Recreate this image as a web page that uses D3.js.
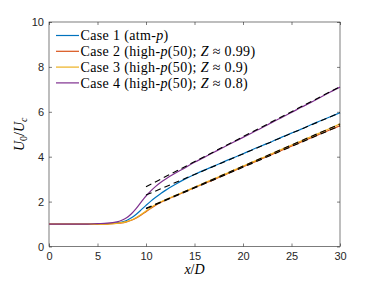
<!DOCTYPE html>
<html>
<head>
<meta charset="utf-8">
<script src="https://cdn.jsdelivr.net/npm/d3@7"></script>
<style>
  body { margin: 0; background: #fff; }
  svg { display: block; }
  .tick text { font-family: "Liberation Sans", Arial, sans-serif; font-size: 11px; fill: #262626; }
  .lab { font-family: "Liberation Serif", "DejaVu Serif", serif; fill: #000; }
</style>
</head>
<body>
<svg width="376" height="282"></svg>
<script>
// x positions of the sampled curves (x/D)
let xs = [0, 2, 4, 5, 6, 7, 7.5, 8, 8.5, 9, 9.5, 10, 10.5, 11, 11.5, 12, 13, 14, 15, 16, 17, 18, 19, 20,
          21, 22, 23, 24, 25, 26, 27, 28, 29, 30];

// U0/Uc for each case
let case1 = [1.0, 1.0, 1.0, 1.0, 1.02, 1.05, 1.09, 1.16, 1.28, 1.44, 1.63, 1.83, 2.02, 2.19, 2.35, 2.5, 2.76, 3.0, 3.21,
             3.4, 3.58, 3.77, 3.95, 4.13, 4.32, 4.5, 4.68, 4.87, 5.05, 5.23, 5.42, 5.6, 5.78, 5.96];
let case2 = [1.0, 1.0, 1.0, 1.0, 1.0, 1.03, 1.05, 1.1, 1.17, 1.27, 1.4, 1.55, 1.7, 1.84, 1.96, 2.06, 2.25, 2.43, 2.62,
             2.8, 2.98, 3.17, 3.36, 3.55, 3.73, 3.92, 4.1, 4.29, 4.47, 4.66, 4.84, 5.02, 5.2, 5.38];
let case3 = [1.0, 1.0, 1.0, 1.0, 1.0, 1.03, 1.06, 1.11, 1.18, 1.29, 1.43, 1.58, 1.73, 1.87, 1.98, 2.08, 2.27, 2.45, 2.64,
             2.83, 3.02, 3.2, 3.39, 3.58, 3.77, 3.95, 4.14, 4.33, 4.52, 4.7, 4.89, 5.08, 5.27, 5.46];
let case4 = [1.0, 1.0, 1.0, 1.02, 1.04, 1.1, 1.17, 1.28, 1.46, 1.7, 1.98, 2.25, 2.48, 2.68, 2.85, 3.0, 3.26, 3.5, 3.75,
             3.97, 4.2, 4.42, 4.64, 4.86, 5.08, 5.3, 5.53, 5.75, 5.97, 6.2, 6.42, 6.65, 6.88, 7.1];

// linear fits (dashed), from x/D = 10 to 30
let fitX = [10, 30];
let fit1 = [2.29, 5.96];
let fit2 = [1.68, 5.38];
let fit3 = [1.70, 5.46];
let fit4 = [2.66, 7.12];

let xTicks = [0, 5, 10, 15, 20, 25, 30];
let yTicks = [0, 2, 4, 6, 8, 10];

let legendNames = [
    [["Case 1 (atm-", 0], ["p", 1], [")", 0]],
    [["Case 2 (high-", 0], ["p", 1], ["(50); ", 0], ["Z", 1], [" \u2248 0.99)", 0]],
    [["Case 3 (high-", 0], ["p", 1], ["(50); ", 0], ["Z", 1], [" \u2248 0.9)", 0]],
    [["Case 4 (high-", 0], ["p", 1], ["(50); ", 0], ["Z", 1], [" \u2248 0.8)", 0]]
];
let colors = ["#0072BD", "#D95319", "#EDB120", "#7E2F8E"];

let svg = d3.select("svg");
let margin = { left: 49, right: 36, top: 22, bottom: 35.5 };
let width = 376 - margin.left - margin.right,
    height = 282 - margin.top - margin.bottom;

let g = svg.append("g").attr("transform", `translate(${margin.left},${margin.top})`);

let x = d3.scaleLinear().domain([0, 30]).range([0, width]);
let y = d3.scaleLinear().domain([0, 10]).range([height, 0]);

// axes, MATLAB style: ticks inside, box on
let axisColor = "#262626";
function styleAxis(sel) {
    sel.select(".domain").remove();
    sel.selectAll(".tick line").attr("stroke", axisColor).attr("stroke-width", 0.6);
}
g.append("g").attr("transform", `translate(0,${height})`)
    .call(d3.axisBottom(x).tickValues(xTicks).tickSize(-3).tickPadding(6))
    .call(styleAxis);
g.append("g").attr("transform", `translate(0,0)`)
    .call(d3.axisTop(x).tickValues(xTicks).tickSize(-3).tickFormat(""))
    .call(styleAxis);
g.append("g")
    .call(d3.axisLeft(y).tickValues(yTicks).tickSize(-3).tickPadding(5))
    .call(styleAxis);
g.append("g").attr("transform", `translate(${width},0)`)
    .call(d3.axisRight(y).tickValues(yTicks).tickSize(-3).tickFormat(""))
    .call(styleAxis);
g.append("rect").attr("width", width).attr("height", height)
    .attr("fill", "none").attr("stroke", axisColor).attr("stroke-width", 0.6);

// curves
let cases = [case1, case2, case3, case4];
let line = d3.line().x(d => x(d[0])).y(d => y(d[1])).curve(d3.curveCatmullRom);
cases.forEach((vals, i) => {
    g.append("path")
        .datum(xs.map((xv, j) => [xv, vals[j]]))
        .attr("fill", "none")
        .attr("stroke", colors[i])
        .attr("stroke-width", 1.2)
        .attr("d", line);
});

// dashed linear fits
[fit1, fit2, fit3, fit4].forEach(f => {
    g.append("path")
        .datum(fitX.map((xv, j) => [xv, f[j]]))
        .attr("fill", "none")
        .attr("stroke", "#000")
        .attr("stroke-width", 1.1)
        .attr("stroke-dasharray", "6,4")
        .attr("d", d3.line().x(d => x(d[0])).y(d => y(d[1])));
});

// legend
let legend = g.append("g").attr("transform", "translate(7,13.5)");
legendNames.forEach((parts, i) => {
    let row = legend.append("g").attr("transform", `translate(0,${i * 15.8})`);
    row.append("line").attr("x1", 0).attr("x2", 23)
        .attr("stroke", colors[i]).attr("stroke-width", 1.2);
    let t = row.append("text").attr("class", "lab").attr("x", 24.5).attr("y", 4.8)
        .style("font-size", "14px").style("letter-spacing", "0.35px");
    parts.forEach(p => {
        t.append("tspan").text(p[0]).style("font-style", p[1] ? "italic" : "normal");
    });
});

// axis labels
let xl = svg.append("text").attr("class", "lab")
    .attr("x", margin.left + width / 2).attr("y", 274)
    .attr("text-anchor", "middle").style("font-size", "14px");
xl.append("tspan").text("x").style("font-style", "italic");
xl.append("tspan").text("/");
xl.append("tspan").text("D").style("font-style", "italic");

let yl = svg.append("text").attr("class", "lab")
    .attr("transform", `translate(24,${margin.top + height / 2}) rotate(-90)`)
    .attr("text-anchor", "middle").style("font-size", "14px");
yl.append("tspan").text("U").style("font-style", "italic");
yl.append("tspan").text("0").attr("dy", 3).style("font-size", "10px");
yl.append("tspan").text("/").attr("dy", -3);
yl.append("tspan").text("U").style("font-style", "italic");
yl.append("tspan").text("c").attr("dy", 3).style("font-size", "10px").style("font-style", "italic");
</script>
</body>
</html>
